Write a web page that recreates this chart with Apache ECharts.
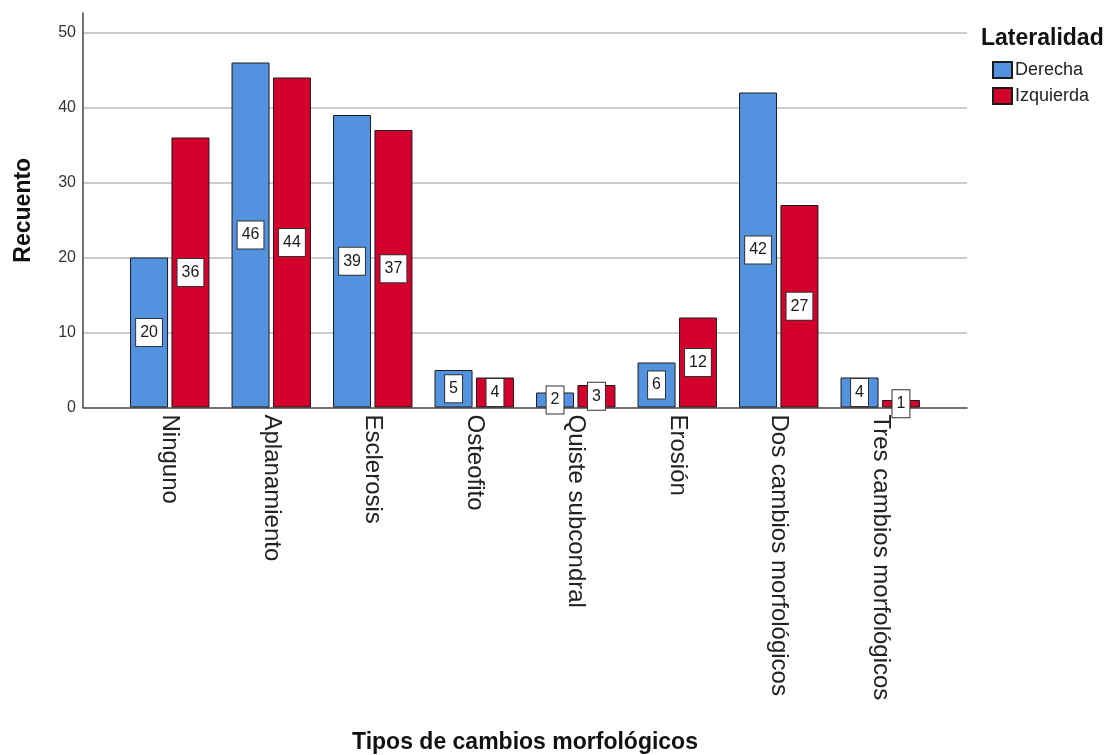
<!DOCTYPE html>
<html>
<head>
<meta charset="utf-8">
<title>Tipos de cambios morfológicos</title>
<script src="https://cdn.jsdelivr.net/npm/echarts@6/dist/echarts.min.js"></script>
<style>
  html, body { margin: 0; padding: 0; background: #fff; }
  #chart { width: 1113px; height: 755px; }
</style>
</head>
<body>
<div id="chart"></div>
<script>
// Counts of morphological change types, split by side
const categories = [
  'Ninguno', 'Aplanamiento', 'Esclerosis', 'Osteofito',
  'Quiste subcondral', 'Erosión', 'Dos cambios morfológicos', 'Tres cambios morfológicos'
];
const derecha = [20, 46, 39, 5, 2, 6, 42, 4];
const izquierda = [36, 44, 37, 4, 3, 12, 27, 1];
const seriesNames = ['Derecha', 'Izquierda'];
const yTicks = [0, 10, 20, 30, 40, 50];

const FONT = '"Liberation Sans", Arial, sans-serif';
const yMax = 52.6;

const valueLabel = {
  show: true,
  position: 'inside',
  color: '#1a1a1a',
  fontFamily: FONT,
  fontSize: 16,
  lineHeight: 19,
  backgroundColor: '#fff',
  borderColor: '#333',
  borderWidth: 1,
  padding: [4, 4, 4, 4]
};

const chart = echarts.init(document.getElementById('chart'), null, { renderer: 'canvas' });

chart.setOption({
  backgroundColor: '#fff',
  animation: false,
  textStyle: { fontFamily: FONT },
  title: {
    text: 'Lateralidad',
    left: 981,
    top: 27,
    padding: 0,
    textStyle: { fontFamily: FONT, fontSize: 23, fontWeight: 'bold', color: '#111' }
  },
  legend: {
    orient: 'vertical',
    left: 992,
    top: 61,
    padding: 0,
    icon: 'rect',
    itemWidth: 19,
    itemHeight: 16,
    itemGap: 8,
    textStyle: { fontFamily: FONT, fontSize: 18, color: '#222', padding: [0, 0, 0, -2] },
    data: seriesNames
  },
  grid: [
    // frame: y axis, gridlines and the long baseline
    { left: 83, right: 146, top: 13, height: 394.5, containLabel: false, outerBoundsMode: 'none' },
    // bars
    { left: 119, right: 182, top: 13, height: 394.5, containLabel: false, outerBoundsMode: 'none' }
  ],
  xAxis: [
    {
      gridIndex: 0,
      type: 'value',
      min: 0,
      max: 1,
      axisLine: { show: true, lineStyle: { color: '#444', width: 1.5 } },
      axisTick: { show: false },
      axisLabel: { show: false },
      splitLine: { show: false },
      name: 'Tipos de cambios morfológicos',
      nameLocation: 'middle',
      nameGap: 324,
      nameTextStyle: { fontFamily: FONT, fontSize: 23, fontWeight: 'bold', color: '#111' }
    },
    {
      gridIndex: 1,
      type: 'category',
      data: categories,
      axisLine: { show: false },
      axisTick: { show: false },
      axisLabel: {
        rotate: -90,
        margin: 7,
        interval: 0,
        fontFamily: FONT,
        fontSize: 24,
        color: '#222'
      }
    }
  ],
  yAxis: [
    {
      gridIndex: 0,
      type: 'value',
      min: 0,
      max: yMax,
      interval: 10,
      axisLine: { show: true, lineStyle: { color: '#444', width: 1.5 } },
      axisTick: { show: false },
      axisLabel: {
        margin: 7,
        fontFamily: FONT,
        fontSize: 16,
        color: '#333',
        formatter: v => (yTicks.indexOf(v) >= 0 ? String(v) : '')
      },
      splitLine: {
        show: true,
        showMinLine: false,
        showMaxLine: false,
        lineStyle: { color: '#bdbdbd', width: 1.5 }
      },
      name: 'Recuento',
      nameLocation: 'middle',
      nameRotate: 90,
      nameGap: 48,
      nameTextStyle: { fontFamily: FONT, fontSize: 23, fontWeight: 'bold', color: '#111' }
    },
    {
      gridIndex: 1,
      type: 'value',
      min: 0,
      max: yMax,
      show: false,
      splitLine: { show: false }
    }
  ],
  series: [
    {
      name: seriesNames[0],
      type: 'bar',
      xAxisIndex: 1,
      yAxisIndex: 1,
      data: derecha,
      barWidth: 38,
      barGap: '9%',
      itemStyle: { color: '#5392de', borderColor: '#1c1c1c', borderWidth: 1 },
      label: valueLabel
    },
    {
      name: seriesNames[1],
      type: 'bar',
      xAxisIndex: 1,
      yAxisIndex: 1,
      data: izquierda,
      barWidth: 38,
      barGap: '9%',
      itemStyle: { color: '#d3002b', borderColor: '#1c1c1c', borderWidth: 1 },
      label: valueLabel
    }
  ]
});
</script>
</body>
</html>
